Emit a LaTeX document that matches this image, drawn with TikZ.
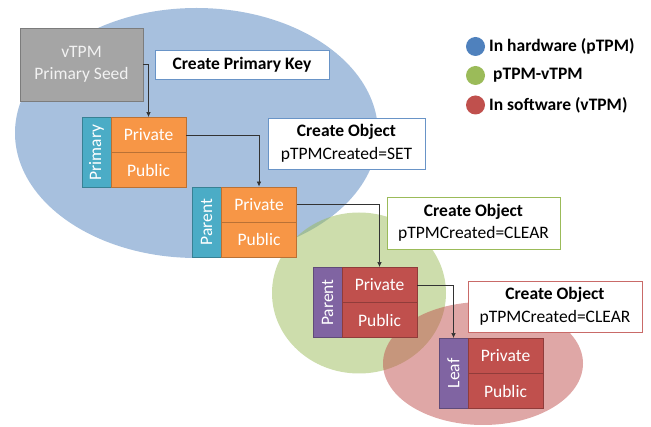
\documentclass[tikz,border=0pt]{standalone}
\usepackage{fontspec}
\setmainfont{Carlito}
\usetikzlibrary{arrows.meta}
\definecolor{cblue}{HTML}{4F81BD}
\definecolor{cgreen}{HTML}{9BBB59}
\definecolor{cred}{HTML}{C0504D}
\definecolor{corange}{HTML}{F79646}
\definecolor{cteal}{HTML}{4BACC6}
\definecolor{cpurple}{HTML}{8064A2}
\definecolor{cgray}{HTML}{A5A5A5}
\tikzset{
  base/.style={inner sep=0pt, align=center, font=\fontsize{17.5}{22.5}\selectfont, line width=0.9pt},
  seedbox/.style={base, fill=cgray, draw=cgray!75!black, text=white!95!black, minimum width=123pt, minimum height=73pt},
  labelbox/.style={base, fill=white, minimum height=51pt},
  tabbox/.style={base, minimum width=29pt, minimum height=70pt, text=white},
  keybox/.style={base, minimum width=75pt, minimum height=35pt, text=white},
  orangekey/.style={keybox, fill=corange, draw=corange!75!black},
  redkey/.style={keybox, fill=cred, draw=cred!75!black},
  tealtab/.style={tabbox, fill=cteal, draw=cteal!75!black},
  purpletab/.style={tabbox, fill=cpurple, draw=cpurple!75!black},
  conn/.style={draw=black!80, line width=0.7pt, -{Latex[length=5pt,width=4.5pt]}},
  legtext/.style={anchor=west, inner sep=0pt, font=\fontsize{17.5}{21}\selectfont\bfseries},
  legdot/.style={circle, minimum size=19pt, inner sep=0pt}
}
\begin{document}
\begin{tikzpicture}[x=1pt,y=-1pt]
\useasboundingbox (0,0) rectangle (651,427);
% ellipses
\fill[cblue, opacity=0.5] (196.5,133) ellipse [x radius=181.5, y radius=125];
\fill[cgreen, opacity=0.5] (359,293) ellipse [x radius=87, y radius=80.5];
\fill[cred, opacity=0.5] (483,363.5) ellipse [x radius=100, y radius=61.5];
% seed
\node[seedbox] (seed) at (81.5,64.5) {vTPM\\Primary Seed};
\node[labelbox, draw=cblue!85!white, minimum width=174pt, minimum height=29pt, font=\fontsize{17.5}{22.5}\selectfont\bfseries] (cpk) at (242,64.5) {Create Primary Key};
% primary
\node[tealtab] (t1) at (96.5,152.5) {\rotatebox{90}{Primary}};
\node[orangekey] (k1a) at (148.5,135) {Private};
\node[orangekey] (k1b) at (148.5,170) {Public};
\node[labelbox, draw=cblue!85!white, minimum width=157pt] (l1) at (346.5,143.5) {\textbf{Create Object}\\pTPMCreated=SET};
% parent (pTPM)
\node[tealtab] (t2) at (206.5,222) {\rotatebox{90}{Parent}};
\node[orangekey] (k2a) at (259,204.5) {Private};
\node[orangekey] (k2b) at (259,239.5) {Public};
\node[labelbox, draw=cgreen, minimum width=173pt, minimum height=52pt] (l2) at (473.5,223) {\textbf{Create Object}\\pTPMCreated=CLEAR};
% parent (vTPM)
\node[purpletab] (t3) at (327.5,302.5) {\rotatebox{90}{Parent}};
\node[redkey] (k3a) at (379.5,285) {Private};
\node[redkey] (k3b) at (379.5,320) {Public};
\node[labelbox, draw=cred!85!white, minimum width=174pt] (l3) at (555,306.5) {\textbf{Create Object}\\pTPMCreated=CLEAR};
% leaf
\node[purpletab] (t4) at (453.5,373.5) {\rotatebox{90}{Leaf}};
\node[redkey] (k4a) at (505.5,356) {Private};
\node[redkey] (k4b) at (505.5,391) {Public};
% connectors
\draw[conn] (seed.east) -| (k1a.north);
\draw[conn] (k1a.east) -| (k2a.north);
\draw[conn] (k2a.east) -| (k3a.north);
\draw[conn] (k3a.east) -| (t4.north);
% legend
\node[legdot, fill=cblue] (d1) at (475.5,46.5) {};
\node[legdot, fill=cgreen] (d2) at (475.5,75.5) {};
\node[legdot, fill=cred] (d3) at (475.5,105) {};
\node[legtext] (e1) at (489,46.5) {In hardware (pTPM)};
\node[legtext] (e2) at (493,75.5) {pTPM-vTPM};
\node[legtext] (e3) at (489,105) {In software (vTPM)};
\end{tikzpicture}
\end{document}
